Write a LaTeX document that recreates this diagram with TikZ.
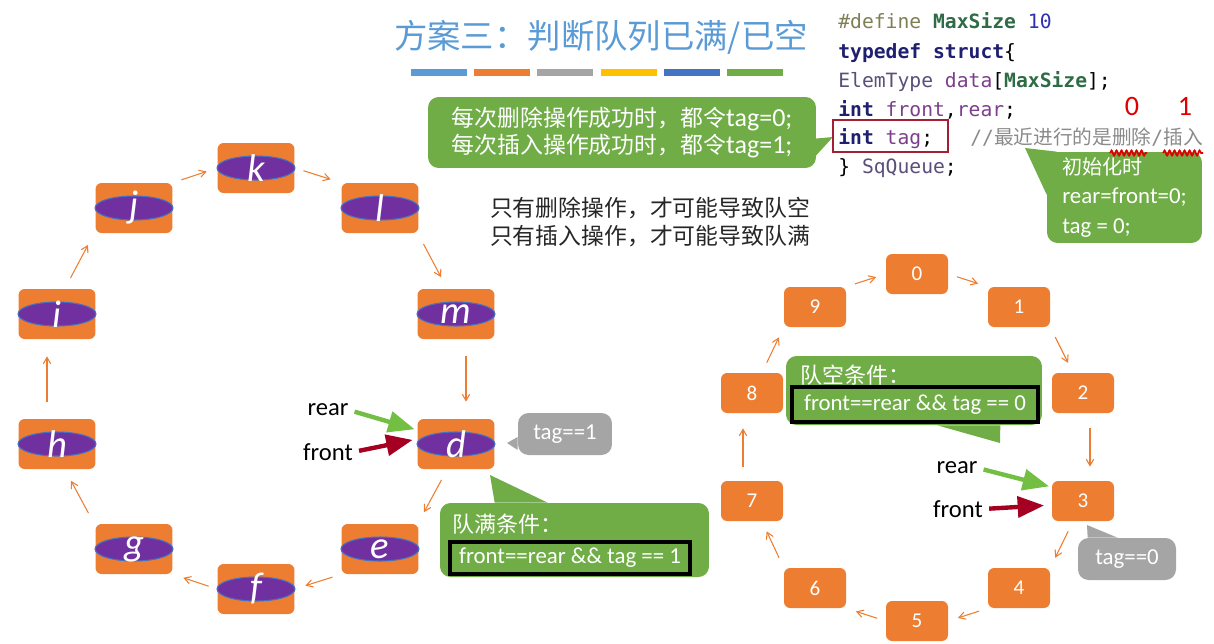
\documentclass[tikz,border=0pt]{standalone}
\usepackage{fontspec}
\setmainfont{Carlito}
\setmonofont{DejaVu Sans Mono}
\newfontfamily\hei{Noto Sans CJK SC}
\newfontfamily\heimix[Scale=0.88]{Noto Sans CJK SC}
\usepackage{tikz}
\usetikzlibrary{arrows,%
                decorations.pathmorphing}
\usepgflibrary{shapes}
\pgfdeclarelayer{background}
\pgfsetlayers{background,main}

\definecolor{cellorange}{HTML}{ED7D31}
\definecolor{ellpurple}{HTML}{7030A0}
\definecolor{ellblue}{HTML}{4472C4}
\definecolor{notegreen}{HTML}{70AD47}
\definecolor{notegray}{HTML}{A5A5A5}
\definecolor{titleblue}{HTML}{5B9BD5}
\definecolor{barblue}{HTML}{5B9BD5}
\definecolor{bargray}{HTML}{A5A5A5}
\definecolor{baryellow}{HTML}{FFC000}
\definecolor{bardblue}{HTML}{4472C4}
\definecolor{reargreen}{HTML}{72BF44}
\definecolor{frontred}{HTML}{A50021}
\definecolor{tagred}{HTML}{A31F34}
\definecolor{handred}{HTML}{E00000}
\definecolor{codeolive}{HTML}{7F7F55}
\definecolor{codegreen}{HTML}{2F6B45}
\definecolor{codeblue}{HTML}{3030B0}
\definecolor{codenavy}{HTML}{1F1F70}
\definecolor{codepurple}{HTML}{7B3F8C}
\definecolor{codeslate}{HTML}{5A4E7A}
\definecolor{codegray}{HTML}{8A8A8A}

\begin{document}
\begin{tikzpicture}[x=0.02cm,y=-0.02cm]
		\useasboundingbox (0,0) rectangle (1214,643);
		\tikzstyle{CellStyle}=[fill=cellorange,rounded corners=3.5pt,minimum width=1.54cm,minimum height=1cm,inner sep=0pt]
		\tikzstyle{EllStyle}=[ellipse,fill=ellpurple,draw=ellblue,line width=0.6pt,minimum width=1.56cm,minimum height=0.48cm,inner sep=0pt]
		\tikzstyle{LetterStyle}=[text=white,font=\fontsize{22}{22}\selectfont\itshape,inner sep=0pt]
		\tikzstyle{SlotStyle}=[fill=cellorange,rounded corners=3.5pt,minimum width=1.24cm,minimum height=0.8cm,inner sep=0pt,text=white,font=\fontsize{12}{12}\selectfont]
		\tikzstyle{RingEdge}=[draw=cellorange,line width=0.6pt,->,>=angle 60,shorten <=0.18cm,shorten >=0.22cm]
		\tikzstyle{GreenNote}=[fill=notegreen,rounded corners=6pt,inner sep=0pt,text=white]
		\tikzstyle{GrayNote}=[fill=notegray,rounded corners=6pt,inner sep=0pt,text=white,font=\fontsize{13}{13}\selectfont]
		\tikzstyle{CondBox}=[draw=black,line width=2.2pt,inner sep=0pt,text=white,font=\fontsize{13}{13}\selectfont]
		\tikzstyle{PtrText}=[inner sep=0pt,font=\fontsize{14}{14}\selectfont]
		\tikzstyle{PtrArrow}=[line width=2.5pt,-triangle 45,shorten <=0.12cm]
		\tikzstyle{CodeLine}=[anchor=base west,inner sep=0pt,font=\ttfamily\fontsize{11.2}{13}\selectfont]
		\tikzstyle{HandWave}=[handred,line width=1pt,decorate,decoration={snake,amplitude=0.05cm,segment length=0.1cm}]
		% title and colour bars
		\node[text=titleblue,font=\hei\fontsize{19}{19}\selectfont] (title) at (601,37) {方案三：判断队列已满/已空};
		\foreach \c [count=\i from 0] in {barblue,cellorange,bargray,baryellow,bardblue,notegreen}
			\fill[\c] (411+63.2*\i,69) rectangle ++(56,7);
		% code
		\node[CodeLine] (c1) at (838,28) {\textcolor{codeolive}{\#define} \textcolor{codegreen}{\bfseries MaxSize} \textcolor{codeblue}{10}};
		\node[CodeLine] (c2) at (838,58) {\textcolor{codenavy}{\bfseries typedef struct}\{};
		\node[CodeLine] (c3) at (838,87) {\textcolor{codeslate}{ElemType} \textcolor{codepurple}{data}[\textcolor{codegreen}{\bfseries MaxSize}];};
		\node[CodeLine] (c4) at (838,116) {\textcolor{codenavy}{\bfseries int} \textcolor{codepurple}{front},\textcolor{codepurple}{rear};};
		\node[CodeLine] (c5) at (838,144) {\textcolor{codenavy}{\bfseries int} \textcolor{codepurple}{tag};};
		\node[CodeLine,text=codegray] (c6) at (970,144) {//{\hei 最近进行的是删除}/{\hei 插入}};
		\node[CodeLine] (c7) at (838,173) {\} \textcolor{codeslate}{SqQueue};};
		\node[draw=tagred,line width=1.4pt,minimum width=2.3cm,minimum height=0.64cm] (tagbox) at (890.5,136) {};
		\node[text=handred,inner sep=0pt,font=\fontsize{16}{16}\selectfont] (hand0) at (1132,106) {0};
		\node[text=handred,inner sep=0pt,font=\fontsize{16}{16}\selectfont] (hand1) at (1185,106) {1};
		% notes
		\node[GreenNote,minimum width=7.76cm,minimum height=1.42cm,align=left,font=\fontsize{14.8}{15.3}\selectfont] (del) at (622,132.5)
			{{\heimix 每次删除操作成功时，都令}tag=0;\\{\heimix 每次插入操作成功时，都令}tag=1;};
		\coordinate (delTip) at (833,137);
		\begin{pgfonlayer}{background}
			\fill[notegreen] ([yshift=-0.12cm]del.east) -- (delTip) -- ([xshift=-0.24cm]del.south east) -- cycle;
		\end{pgfonlayer}
		\node[GreenNote,minimum width=3.1cm,minimum height=1.82cm,align=left,font=\fontsize{13}{17}\selectfont] (init) at (1124.5,197.5)
			{{\heimix 初始化时}\\rear=front=0;\\tag = 0;};
		\coordinate (initTip) at (1025,148);
		\begin{pgfonlayer}{background}
			\fill[notegreen] ([xshift=0.2cm]init.north west) -- (initTip) -- ([yshift=-0.86cm]init.north west) -- cycle;
		\end{pgfonlayer}
		\draw[HandWave] (1110,153) -- (1147,153);
		\draw[HandWave] (1163,153) -- (1203,153);
		\node[align=left,text=black!85,font=\hei\fontsize{13}{15.9}\selectfont] (only) at (650,222)
			{只有删除操作，才可能导致队空\\只有插入操作，才可能导致队满};
		% left ring
		\foreach \n/\x/\y in {k/256/168,l/380/208,m/456/314,d/456/444,e/380/549,f/256/589,g/134/549,h/57/444,i/57/314,j/134/208}{
			\node[CellStyle] (\n) at (\x,\y) {};
			\node[EllStyle,label={[LetterStyle]center:\n}] (\n-in) at (\n) {};
		}
		\draw[RingEdge] (j.north east) -- (k.west);
		\draw[RingEdge] (k.east) -- (l.north west);
		\draw[RingEdge,shorten <=0.24cm,shorten >=0.26cm] ([xshift=-0.02cm]l.south east) -- ([xshift=0.6cm]m.north west);
		\draw[RingEdge,shorten <=0.34cm,shorten >=0.34cm] ([xshift=0.2cm]m.south) -- ([xshift=0.2cm]d.north);
		\draw[RingEdge,shorten <=0.24cm,shorten >=0.26cm] ([xshift=0.6cm]d.south west) -- ([xshift=-0.02cm]e.north east);
		\draw[RingEdge] (e.south west) -- (f.east);
		\draw[RingEdge] (f.west) -- (g.south east);
		\draw[RingEdge,shorten <=0.24cm,shorten >=0.26cm] ([xshift=-0.02cm]g.north west) -- ([xshift=-0.62cm]h.south east);
		\draw[RingEdge,shorten <=0.34cm,shorten >=0.34cm] ([xshift=-0.2cm]h.north) -- ([xshift=-0.2cm]i.south);
		\draw[RingEdge,shorten <=0.24cm,shorten >=0.26cm] ([xshift=-0.62cm]i.north east) -- ([xshift=-0.02cm]j.south west);
		% pointers on d
		\node[PtrText] (rearL) at (328,410) {rear};
		\node[PtrText] (frontL) at (328,452) {front};
		\draw[PtrArrow,reargreen,shorten >=0.06cm] (rearL.east) -- ([yshift=0.28cm]d.west);
		\draw[PtrArrow,frontred,shorten >=0.1cm] (frontL.east) -- ([yshift=0.1cm]d.west);
		\node[GrayNote,minimum width=1.88cm,minimum height=0.84cm] (tag1) at (565,434) {tag==1};
		\coordinate (tag1Tip) at (507,443);
		\fill[notegray] ([yshift=-0.06cm]tag1.west) -- (tag1Tip) -- ([yshift=-0.32cm]tag1.west) -- cycle;
		\node[GreenNote,minimum width=5.38cm,minimum height=1.48cm] (full) at (574.5,540) {};
		\coordinate (fullTip) at (490,475);
		\fill[notegreen] ([xshift=1.1cm]full.north west) -- (fullTip) -- ([xshift=2.16cm]full.north west) -- cycle;
		\node[anchor=west,inner sep=0pt,text=white,font=\hei\fontsize{12.5}{13}\selectfont] (fullT) at (452,524) {队满条件：};
		\node[CondBox,minimum width=4.8cm,minimum height=0.64cm] (fullC) at (570,558) {front==rear \&\& tag == 1};
		% right ring
		\foreach \n/\x/\y in {0/917/274,1/1019/307,2/1083/393,3/1083/501,4/1019/588,5/917/621,6/815/588,7/752/501,8/752/393,9/815/307}
			\node[SlotStyle] (s\n) at (\x,\y) {\n};
		\draw[RingEdge,shorten >=0.2cm] (s9.north east) -- (s0.west);
		\draw[RingEdge,shorten >=0.2cm] (s0.east) -- (s1.north west);
		\draw[RingEdge,shorten <=0.22cm] (s1.south east) -- ([xshift=-0.2cm]s2.north);
		\draw[RingEdge,shorten <=0.3cm,shorten >=0.28cm] ([xshift=0.14cm]s2.south) -- ([xshift=0.14cm]s3.north);
		\draw[RingEdge,shorten <=0.22cm] ([xshift=-0.2cm]s3.south) -- (s4.north east);
		\draw[RingEdge,shorten >=0.2cm] (s4.south west) -- (s5.east);
		\draw[RingEdge,shorten >=0.2cm] (s5.west) -- (s6.south east);
		\draw[RingEdge,shorten <=0.22cm] (s6.north west) -- ([xshift=0.2cm]s7.south);
		\draw[RingEdge,shorten <=0.28cm,shorten >=0.3cm] ([xshift=-0.18cm]s7.north) -- ([xshift=-0.18cm]s8.south);
		\draw[RingEdge,shorten <=0.22cm] ([xshift=0.2cm]s8.north) -- (s9.south west);
		% pointers on 3
		\node[PtrText] (rearR) at (957,468) {rear};
		\node[PtrText] (frontR) at (958,509) {front};
		\draw[PtrArrow,reargreen,shorten >=0.06cm] (rearR.east) -- ([yshift=0.28cm]s3.west);
		\draw[PtrArrow,frontred,shorten >=0.16cm] (frontR.east) -- ([yshift=-0.08cm]s3.west);
		\node[GrayNote,minimum width=1.96cm,minimum height=0.84cm] (tag0) at (1127,559) {tag==0};
		\coordinate (tag0Tip) at (1087,525);
		\fill[notegray] ([xshift=0.2cm]tag0.north west) -- (tag0Tip) -- ([xshift=0.8cm]tag0.north west) -- cycle;
		\node[GreenNote,minimum width=5.12cm,minimum height=1.38cm] (empty) at (914,390.5) {};
		\coordinate (emptyTip) at (1000,443);
		\fill[notegreen] ([xshift=-2.1cm]empty.south east) -- (emptyTip) -- ([xshift=-0.84cm]empty.south east) -- cycle;
		\node[anchor=west,inner sep=0pt,text=white,font=\hei\fontsize{12.5}{13}\selectfont] (emptyT) at (800,375) {队空条件：};
		\node[CondBox,minimum width=4.92cm,minimum height=0.7cm] (emptyC) at (915,404.5) {front==rear \&\& tag == 0};
	\end{tikzpicture}
\end{document}
